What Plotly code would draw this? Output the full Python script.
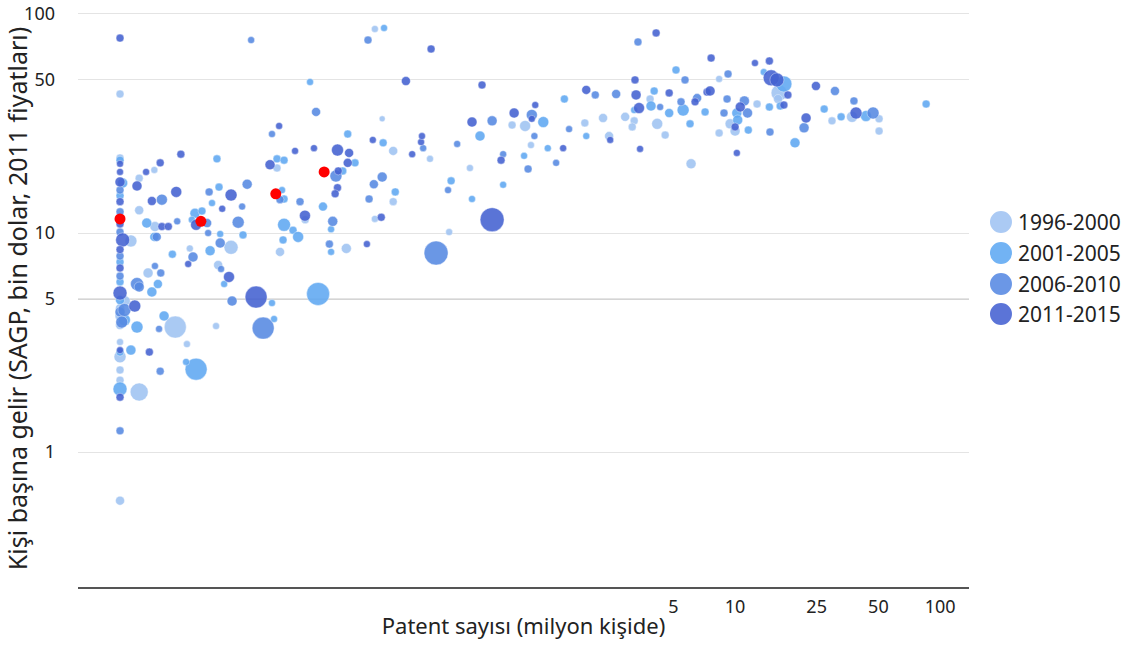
import plotly.graph_objects as go

# ---------------- data ----------------
# 1996-2000
x_1996 = [0.01, 0.01, 0.0106, 0.01, 0.01, 0.01, 0.01, 0.01, 0.01, 0.01, 0.01,
          0.0147, 0.0124, 0.0124, 0.0148, 0.0113, 0.0137, 0.0186, 0.0124, 0.0212, 0.0294,
          0.0301, 0.0348, 0.0219, 0.0583, 0.190, 0.175, 0.215, 0.215, 0.175, 0.127,
          0.0603, 0.080, 0.325, 0.403, 0.509, 0.817, 0.946, 1.01, 1.85, 2.27,
          2.43, 2.91, 3.22, 3.15, 3.85, 4.17, 4.56, 6.10, 8.36, 8.36,
          9.46, 10.0, 12.8, 16.4, 16.2, 29.7, 37.2, 50.4, 50.4]
y_1996 = [43.1, 22.0, 4.89, 4.54, 3.80, 3.18, 2.72, 2.37, 2.13, 0.60, 4.18,
          19.4, 17.8, 12.7, 10.7, 9.2, 6.57, 3.72, 1.88, 3.11, 3.76,
          7.14, 8.6, 8.5, 19.8, 33.2, 85.4, 23.7, 13.9, 11.6, 8.5,
          8.2, 11.5, 21.8, 10.1, 19.8, 31.1, 30.8, 25.2, 31.8, 33.5,
          27.7, 33.9, 32.5, 30.5, 40.9, 31.5, 28.0, 20.7, 50.5, 28.6,
          31.5, 29.2, 38.8, 43.6, 40.9, 32.5, 33.9, 33.2, 29.2]
s_1996 = [8, 8, 10, 9, 9, 7, 12, 8, 8, 9, 10,
          7, 8, 9, 10, 12, 10, 22, 18, 7, 7,
          9, 14, 7, 8, 6, 7, 9, 8, 7, 10,
          9, 8, 7, 7, 7, 8, 11, 7, 8, 9,
          9, 9, 8, 8, 8, 11, 8, 10, 7, 8,
          10, 10, 8, 16, 9, 8, 11, 8, 8]

# 2001-2005
x_2001 = [0.01, 0.0103, 0.01, 0.01, 0.01, 0.01, 0.0105, 0.01, 0.01,
          0.0297, 0.0135, 0.0147, 0.0180, 0.0153, 0.0143, 0.0164, 0.0121, 0.0113, 0.0235,
          0.0210, 0.0322, 0.0275, 0.0308, 0.0232, 0.0251, 0.0224, 0.0281, 0.0304, 0.0398,
          0.0583, 0.0631, 0.0617, 0.0631, 0.0631, 0.0698, 0.0739, 0.0624, 0.0551, 0.0564,
          0.0925, 0.0845, 0.0977, 0.107, 0.107, 0.122, 0.140, 0.129, 0.194, 0.192,
          0.220, 0.570, 0.412, 0.521, 0.739, 0.935, 1.16, 1.22, 1.47, 1.88,
          3.22, 3.89, 4.03, 4.77, 5.15, 5.58, 6.03, 7.14, 10.2, 10.3,
          11.6, 13.8, 17.3, 16.6, 14.7, 19.6, 27.2, 32.9, 43.5, 85.5]
y_2001 = [21.5, 16.9, 14.8, 7.37, 5.98, 4.94, 4.01, 2.86, 1.94,
          21.8, 11.1, 9.6, 8.0, 5.85, 5.38, 4.18, 3.72, 2.92, 2.39,
          2.58, 5.85, 8.3, 9.9, 12.3, 12.6, 11.5, 13.7, 16.2, 9.8,
          21.8, 21.5, 15.7, 14.3, 10.9, 10.3, 9.6, 9.3, 4.79, 4.05,
          5.27, 48.9, 13.2, 10.4, 8.2, 19.2, 20.9, 28.3, 86.3, 25.8,
          15.4, 27.7, 17.3, 14.3, 16.6, 22.5, 32.1, 24.4, 40.9, 27.7,
          36.4, 38.0, 44.5, 35.3, 55.5, 36.4, 31.5, 35.7, 35.3, 32.8,
          29.5, 54.3, 47.9, 38.0, 37.6, 25.8, 36.8, 33.9, 34.2, 38.8]
s_2001 = [8, 10, 8, 8, 8, 9, 12, 8, 14,
          8, 10, 9, 8, 9, 10, 10, 12, 10, 22,
          7, 7, 10, 7, 10, 8, 7, 7, 8, 8,
          8, 8, 7, 8, 13, 8, 11, 8, 7, 7,
          23, 7, 9, 7, 7, 8, 8, 8, 7, 8,
          8, 10, 8, 7, 7, 7, 11, 7, 8, 7,
          7, 10, 8, 9, 8, 12, 8, 8, 10, 10,
          8, 7, 16, 8, 8, 10, 8, 8, 11, 8]

# 2006-2010
x_2006 = [0.01, 0.01, 0.01, 0.01, 0.01, 0.01, 0.0105, 0.0102, 0.01,
          0.0160, 0.0190, 0.0151, 0.0148, 0.0158, 0.0121, 0.0124, 0.0155, 0.0157, 0.0352,
          0.0311, 0.0227, 0.0269, 0.0266, 0.0272, 0.0377, 0.0417, 0.0499, 0.0394, 0.0308,
          0.0436, 0.0551, 0.0904, 0.0603, 0.0755, 0.113, 0.109, 0.105, 0.162, 0.173,
          0.190, 0.164, 0.301, 0.348, 0.441, 0.398, 0.653, 0.739, 0.978, 1.02,
          1.05, 1.34, 1.55, 2.08, 2.63, 3.36, 4.31, 5.45, 5.70, 6.53,
          8.83, 9.14, 9.24, 11.1, 11.5, 14.8, 21.7, 30.7, 38.0, 47.1]
y_2006 = [15.7, 12.5, 10.1, 7.85, 6.36, 4.36, 4.45, 3.92, 1.25,
          14.2, 11.3, 9.6, 7.07, 6.57, 5.85, 5.67, 3.65, 2.34, 4.89,
          6.85, 7.77, 10.0, 11.1, 15.4, 11.2, 16.7, 3.68, 13.2, 9.0,
          76.0, 28.3, 35.7, 14.2, 13.9, 18.2, 11.3, 8.9, 76.0, 16.7,
          18.0, 14.3, 24.4, 8.1, 25.5, 15.7, 32.5, 22.9, 19.6, 34.6,
          27.7, 20.9, 29.8, 42.7, 43.1, 74.5, 37.6, 39.7, 50.0, 41.3,
          35.3, 40.9, 53.2, 40.1, 35.3, 28.9, 30.2, 44.5, 40.1, 35.3]
s_2006 = [8, 8, 8, 8, 8, 10, 13, 12, 8,
          11, 7, 9, 7, 8, 13, 10, 7, 8, 10,
          7, 10, 7, 9, 8, 12, 10, 22, 7, 10,
          7, 7, 9, 8, 8, 12, 10, 8, 8, 9,
          10, 8, 7, 24, 7, 7, 10, 7, 8, 11,
          7, 7, 7, 8, 9, 8, 7, 8, 8, 9,
          8, 8, 8, 10, 10, 8, 10, 9, 8, 12]

# 2011-2015
x_2011 = [0.01, 0.01, 0.01, 0.01, 0.01, 0.01, 0.0103, 0.01, 0.01, 0.01, 0.01, 0.01,
          0.0198, 0.0157, 0.0134, 0.0121, 0.0188, 0.0143, 0.0160, 0.0172, 0.0235, 0.0315,
          0.0348, 0.0215, 0.0340, 0.0118, 0.0139, 0.0461, 0.0597, 0.0714, 0.0883, 0.115,
          0.131, 0.0539, 0.0798, 0.115, 0.112, 0.116, 0.129, 0.171, 0.266, 0.294,
          0.297, 0.188, 0.160, 0.248, 0.329, 0.583, 0.521, 0.836, 1.06, 1.02,
          0.722, 1.45, 0.653, 1.88, 2.46, 3.25, 3.29, 3.40, 3.44, 4.12,
          4.77, 6.38, 7.30, 7.55, 7.64, 10.0, 10.2, 10.6, 12.5, 14.7,
          15.0, 16.0, 18.1, 17.3, 22.2, 24.8, 38.9]
y_2011 = [77.6, 20.7, 19.0, 17.1, 13.9, 11.0, 9.3, 8.4, 6.92, 5.32, 2.92, 1.78,
          22.9, 20.9, 19.0, 16.4, 15.4, 14.0, 10.7, 10.7, 10.9, 12.9,
          14.9, 7.22, 6.30, 4.64, 2.86, 5.10, 30.8, 23.7, 24.4, 23.9,
          23.2, 20.5, 12.0, 16.1, 15.1, 19.2, 20.9, 26.6, 22.9, 26.0,
          27.7, 11.8, 8.9, 49.4, 69.2, 47.4, 32.1, 35.3, 38.4, 33.2,
          21.5, 24.4, 11.5, 45.0, 26.6, 50.0, 42.7, 37.2, 24.2, 81.9,
          43.6, 39.7, 44.0, 44.5, 62.9, 30.5, 23.2, 37.6, 59.7, 61.0,
          51.1, 50.0, 42.7, 38.4, 33.5, 46.9, 35.3]
s_2011 = [8, 7, 7, 10, 8, 8, 14, 8, 8, 14, 7, 8,
          8, 8, 7, 10, 11, 9, 8, 8, 11, 7,
          12, 7, 11, 12, 8, 22, 7, 7, 7, 12,
          9, 10, 11, 8, 8, 8, 9, 7, 7, 7,
          7, 8, 7, 9, 8, 8, 10, 10, 7, 7,
          8, 7, 24, 9, 7, 8, 10, 11, 7, 8,
          8, 8, 8, 10, 8, 8, 7, 10, 7, 8,
          16, 14, 8, 8, 10, 9, 12]

# Turkey (highlighted)
x_tr = [0.01, 0.0248, 0.0575, 0.099]
y_tr = [11.6, 11.3, 15.1, 19.0]

series = [
    ("1996-2000", x_1996, y_1996, s_1996, "#9fc3f2"),
    ("2001-2005", x_2001, y_2001, s_2001, "#5fa8f2"),
    ("2006-2010", x_2006, y_2006, s_2006, "#5689e2"),
    ("2011-2015", x_2011, y_2011, s_2011, "#4461d1"),
]

x_ticks = [5, 10, 25, 50, 100]
y_ticks = [1, 5, 10, 50, 100]

FONT = "Noto Sans"

fig = go.Figure()
for name, xs, ys, ss, col in series:
    fig.add_trace(go.Scatter(
        x=xs, y=ys, mode="markers", name=name, showlegend=False,
        marker=dict(size=ss, color=col, opacity=0.88,
                    line=dict(width=0.6, color="rgba(255,255,255,0.7)")),
    ))

fig.add_trace(go.Scatter(
    x=x_tr, y=y_tr, mode="markers", name="Türkiye", showlegend=False,
    marker=dict(size=11, color="#ff0000", line=dict(width=0)),
))

# manual legend (large circles)
legend_y = [0.6326, 0.5789, 0.5251, 0.4731]
shapes = []
annotations = []
for (name, _, _, _, col), ly in zip(series, legend_y):
    shapes.append(dict(type="circle", xref="paper", yref="paper",
                       xsizemode="pixel", ysizemode="pixel",
                       xanchor=1.0359, yanchor=ly,
                       x0=-11, x1=11, y0=-11, y1=11,
                       fillcolor=col, opacity=0.88, line=dict(width=0)))
    annotations.append(dict(x=1.053, y=ly, xref="paper", yref="paper",
                            text=name, showarrow=False, xanchor="left",
                            yanchor="middle",
                            font=dict(family=FONT, size=21, color="#222")))

# darker reference line at 5
shapes.append(dict(type="line", xref="paper", yref="y", x0=0, x1=1,
                   y0=5, y1=5, line=dict(color="#a0a0a0", width=1),
                   layer="below"))

fig.update_layout(
    width=1130, height=646,
    margin=dict(l=78, r=161, t=10, b=59),
    paper_bgcolor="white", plot_bgcolor="white",
    font=dict(family=FONT, color="#222"),
    shapes=shapes, annotations=annotations,
    showlegend=False,
)

fig.update_xaxes(
    type="log", range=[-2.205, 2.141], automargin=False,
    tickvals=x_ticks, ticktext=[str(v) for v in x_ticks],
    showgrid=False, zeroline=False,
    showline=True, linecolor="#555", linewidth=2,
    ticks="", ticklabelstandoff=2,
    tickfont=dict(family=FONT, size=18, color="#222"),
    title=dict(text="Patent sayısı (milyon kişide)",
               font=dict(family=FONT, size=22, color="#222"), standoff=2),
)
fig.update_yaxes(
    type="log", range=[-0.616, 2.018], automargin=False,
    tickvals=y_ticks, ticktext=[str(v) for v in y_ticks],
    showgrid=True, gridcolor="#e4e4e4", gridwidth=1,
    zeroline=False, showline=False,
    ticks="", ticklabelstandoff=22,
    tickfont=dict(family=FONT, size=18, color="#222"),
    title=dict(text="Kişi başına gelir (SAGP, bin dolar, 2011 fiyatları)",
               font=dict(family=FONT, size=25, color="#222"), standoff=4),
)

fig.write_html("out.html")
